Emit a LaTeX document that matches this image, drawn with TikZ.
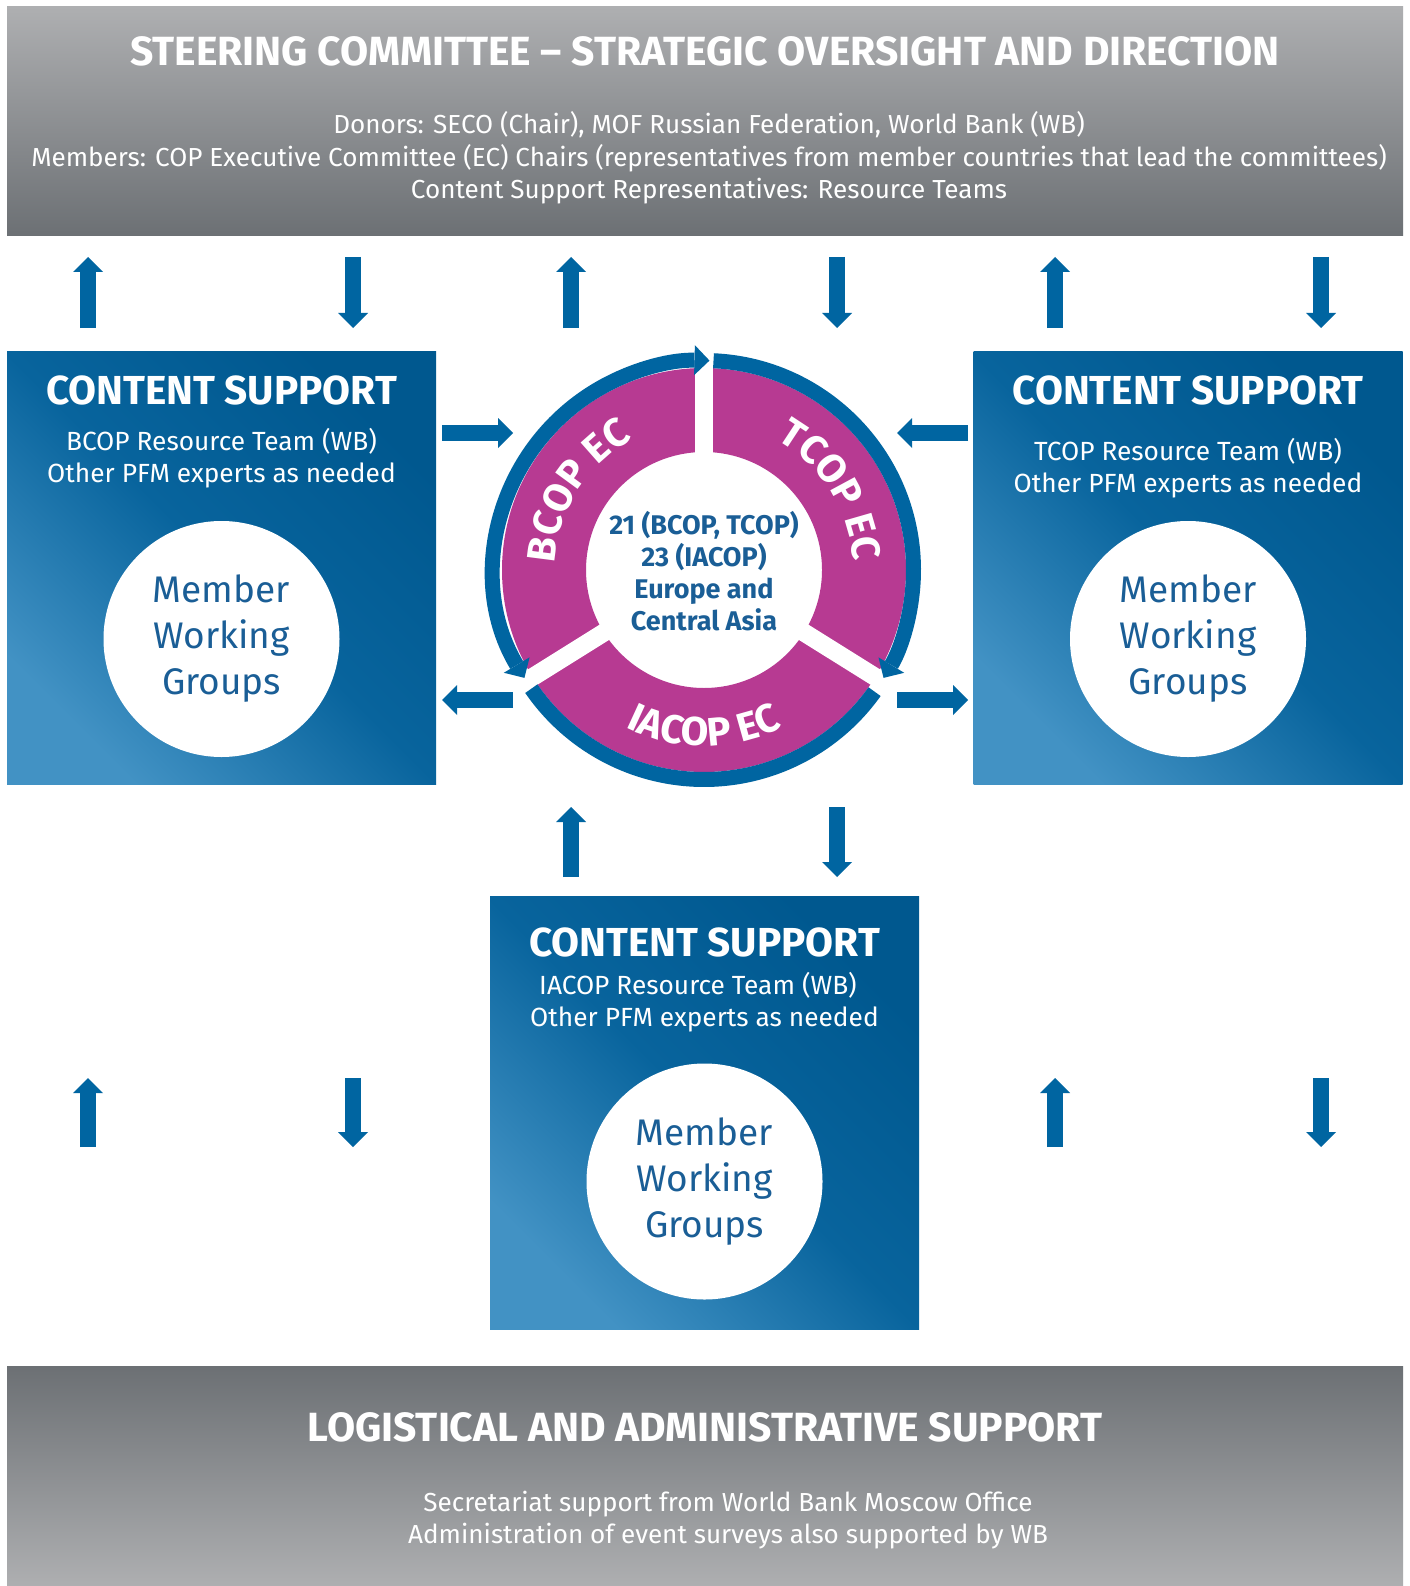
\documentclass[tikz,border=0pt]{standalone}
\usepackage{fontspec}
\setmainfont{Fira Sans}
\usetikzlibrary{arrows.meta,decorations.text}
\definecolor{cblue}{RGB}{0,101,161}
\definecolor{cmag}{RGB}{183,58,146}
\definecolor{bdark}{RGB}{0,88,143}
\definecolor{bmid}{RGB}{8,100,157}
\definecolor{blight}{RGB}{66,146,196}
\definecolor{gLight}{RGB}{174,175,177}
\definecolor{gDark}{RGB}{108,112,116}
\definecolor{txtblue}{RGB}{26,94,150}
\newcommand\ringfont{\fontsize{40}{40}\selectfont\bfseries\color{white}}
\begin{document}
\begin{tikzpicture}[x=1pt,y=1pt]
\tikzset{
 bhead/.tip={Triangle[width=30pt,length=15pt,line width=0pt]},
 flow/.style={draw=cblue, line width=16pt, -bhead},
 ringband/.style={draw=cblue, line width=15pt},
 banner/.style={rectangle, inner sep=0pt, minimum width=1396pt},
 cbox/.style={rectangle, inner sep=0pt, minimum width=429pt, minimum height=433pt,
   top color=bdark, bottom color=blight, middle color=bmid, shading angle=-45},
 mwg/.style={circle, fill=white, minimum size=236pt, inner sep=0pt, align=center,
   text=txtblue, font=\fontsize{37}{46}\selectfont},
 bigtitle/.style={text=white, inner sep=0pt, font=\fontsize{40.8}{42}\selectfont\bfseries},
 cstitle/.style={text=white, inner sep=0pt, font=\fontsize{40.5}{42}\selectfont\bfseries},
 cstxt/.style={text=white, align=center, inner sep=0pt, font=\fontsize{26.3}{32}\selectfont},
 bantxt/.style={text=white, align=center, inner sep=0pt, font=\fontsize{26.1}{32.5}\selectfont},
}
\useasboundingbox (0,0) rectangle (1409,-1586);
\fill[white] (0,0) rectangle (1409,-1586);

% banners
\node[banner, minimum height=229pt, top color=gLight, bottom color=gDark] (steer) at (705,-121.5) {};
\node[bigtitle] (steerT) at (705,-51) {STEERING COMMITTEE – STRATEGIC OVERSIGHT AND DIRECTION};
\node[bantxt] (steerL) at (709,-158) {Donors: SECO (Chair), MOF Russian Federation, World Bank (WB)\\
Members: COP Executive Committee (EC) Chairs (representatives from member countries that lead the committees)\\
Content Support Representatives: Resource Teams};

\node[banner, minimum height=220pt, top color=gDark, bottom color=gLight] (logi) at (705,-1476) {};
\node[bigtitle] (logiT) at (705,-1427) {LOGISTICAL AND ADMINISTRATIVE SUPPORT};
\node[bantxt] (logiL) at (728,-1520) {Secretariat support from World Bank Moscow Office\\
Administration of event surveys also supported by WB};

% content support boxes
\node[cbox] (boxL) at (221.5,-567.5) {};
\node[cbox] (boxR) at (1188,-567.5) {};
\node[cbox] (boxB) at (704.5,-1113) {};
\node[cstitle] (csL) at (221.5,-390) {CONTENT SUPPORT};
\node[cstxt] (rtL) at (221.5,-458) {BCOP Resource Team (WB)\\Other PFM experts as needed};
\node[cstitle] (csR) at (1188,-390) {CONTENT SUPPORT};
\node[cstxt] (rtR) at (1188,-468) {TCOP Resource Team (WB)\\Other PFM experts as needed};
\node[cstitle] (csB) at (704.5,-942) {CONTENT SUPPORT};
\node[cstxt] (rtB1) at (698,-985) {IACOP Resource Team (WB)};
\node[cstxt] (rtB2) at (704.5,-1019) {Other PFM experts as needed};
\node[mwg] (mwgL) at (221.5,-639) {Member\\Working\\Groups};
\node[mwg] (mwgR) at (1188,-639) {Member\\Working\\Groups};
\node[mwg] (mwgB) at (704.5,-1181.5) {Member\\Working\\Groups};

% central ring
\coordinate (c) at (704,-570);
\fill[cmag, even odd rule] (c) circle[radius=202] (c) circle[radius=118];
\foreach \a in {90,212,328} \draw[white, line width=18pt] (c) -- ++(\a:224);
\draw[ringband, bhead-bhead] ([shift={(211:209.5)}]c) arc[start angle=211, end angle=88.5, radius=209.5];
\draw[ringband, -bhead] ([shift={(87.4:209.5)}]c) arc[start angle=87.4, end angle=-31, radius=209.5];
\draw[ringband] ([shift={(-35.5:209.5)}]c) arc[start angle=-35.5, end angle=-145.5, radius=209.5];
\path[decorate, decoration={text along path, text align=center, text={|\ringfont|BCOP EC}}]
  ([shift={(198:149)}]c) arc[start angle=198, end angle=98, radius=149];
\path[decorate, decoration={text along path, text align=center, text={|\ringfont|TCOP EC}}]
  ([shift={(82:149)}]c) arc[start angle=82, end angle=-18, radius=149];
\path[decorate, decoration={text along path, text align=center, text={|\ringfont|IACOP EC}}]
  ([shift={(220:176)}]c) arc[start angle=220, end angle=320, radius=176];
\node[align=center, text=txtblue, inner sep=0pt, font=\fontsize{27}{32}\selectfont\bfseries] (ctr) at (704,-571)
  {21 (BCOP, TCOP)\\23 (IACOP)\\Europe and\\Central Asia};

% arrow end points
\foreach \n/\x in {a/88,b/353,d/571,e/837,f/1055,g/1321}{
  \coordinate (t\n1) at (\x,-257);
  \coordinate (t\n2) at (\x,-328);
}
\foreach \n/\x in {a/88,b/353,f/1055,g/1321}{
  \coordinate (l\n1) at (\x,-1078);
  \coordinate (l\n2) at (\x,-1147);
}
\coordinate (m1u) at (571,-807); \coordinate (m2u) at (571,-877);
\coordinate (m1d) at (837,-807); \coordinate (m2d) at (837,-877);
\coordinate (hL1) at (442,-433); \coordinate (hL2) at (513,-433);
\coordinate (hL3) at (513,-700); \coordinate (hL4) at (442,-700);
\coordinate (hR1) at (968,-433); \coordinate (hR2) at (897,-433);
\coordinate (hR3) at (897,-700); \coordinate (hR4) at (968,-700);

% vertical flows
\draw[flow] (ta2) -- (ta1);
\draw[flow] (tb1) -- (tb2);
\draw[flow] (td2) -- (td1);
\draw[flow] (te1) -- (te2);
\draw[flow] (tf2) -- (tf1);
\draw[flow] (tg1) -- (tg2);
\draw[flow] (la2) -- (la1);
\draw[flow] (lb1) -- (lb2);
\draw[flow] (lf2) -- (lf1);
\draw[flow] (lg1) -- (lg2);
\draw[flow] (m2u) -- (m1u);
\draw[flow] (m1d) -- (m2d);
% horizontal flows
\draw[flow] (hL1) -- (hL2);
\draw[flow] (hL3) -- (hL4);
\draw[flow] (hR1) -- (hR2);
\draw[flow] (hR3) -- (hR4);
\end{tikzpicture}
\end{document}
